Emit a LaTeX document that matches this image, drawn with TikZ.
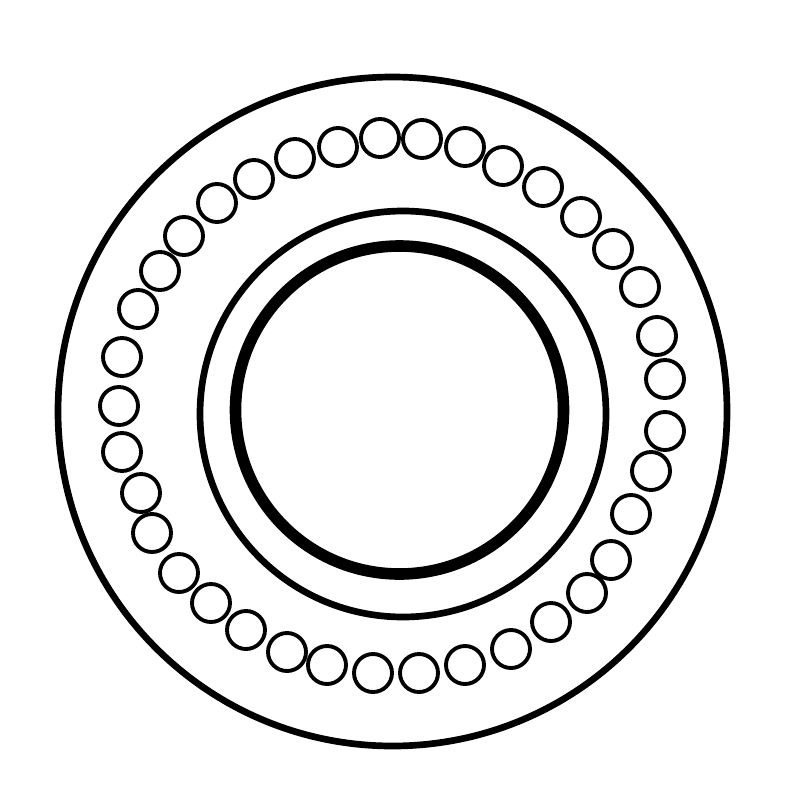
\documentclass[tikz,border=0pt]{standalone}
\begin{document}
\begin{tikzpicture}[x=0.01cm, y=-0.01cm, ball/.style={line width=1.1pt}]
\useasboundingbox (0,0) rectangle (800,800);
\draw[line width=1.9pt] (392.5,411.5) circle (334.5);
\draw[line width=1.9pt] (403,414) circle (203);
\draw[line width=3.3pt] (399.5,410) circle (164);
\foreach \x/\y in {380/138, 338/147, 295/158, 254/179, 217/203, 184/236, 160/271, 138/309, 122/357, 119/406,
    122/452, 141/493, 152/533, 179/573, 211/603, 246/630, 287/652, 327/665, 373/673,
    419/673, 465/665, 511/649, 551/622, 587/593, 611/560, 631/514, 651/471, 665/431,
    665/379, 657/336, 640/287, 613/249, 581/217, 543/187, 503/166, 465/147, 422/139}
    \draw[ball] (\x,\y) circle (19);
\end{tikzpicture}
\end{document}
